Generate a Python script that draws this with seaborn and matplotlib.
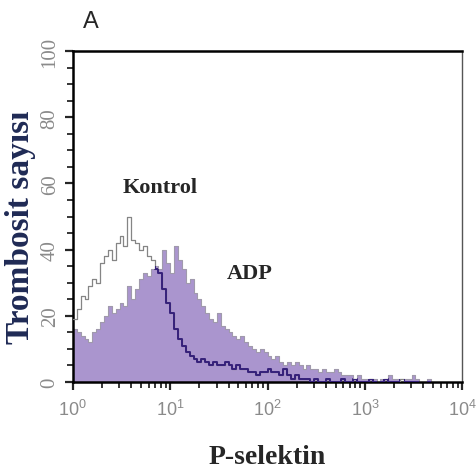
import numpy as np
import seaborn as sns
import matplotlib.pyplot as plt
from matplotlib.ticker import MultipleLocator, LogLocator

# histogram channels, 0.04 decade wide, from 10^0 to 10^4
log_kanal = np.arange(100) * 0.04

kontrol = [19, 22, 26, 25, 29, 31, 30, 36, 38, 40,
           37, 42, 44, 41, 50, 43, 42, 40, 41, 38,
           37, 34, 33, 28, 24, 21, 16, 13, 11, 9,
           8, 7, 6, 7, 6, 5, 6, 5, 5, 6,
           5, 4, 5, 4, 4, 3, 3, 2, 3, 3,
           4, 3, 3, 2, 4, 2, 1, 2, 1, 1,
           1, 0, 1, 0, 0, 1, 0, 0, 0, 1,
           0, 0, 1, 0, 0, 0, 1, 0, 0, 0,
           1, 0, 0, 0, 1, 0, 0, 0, 0, 0,
           0, 0, 0, 0, 0, 0, 0, 0, 0, 0]

adp = [16, 15, 14, 13, 12, 15, 16, 18, 20, 23,
       21, 22, 24, 23, 29, 25, 28, 31, 33, 32,
       34, 35, 34, 40, 36, 33, 41, 37, 34, 30,
       31, 27, 25, 23, 21, 19, 18, 21, 17, 16,
       15, 14, 13, 14, 12, 11, 10, 9, 10, 9,
       8, 7, 8, 6, 5, 6, 5, 6, 5, 4,
       5, 4, 4, 3, 4, 3, 3, 4, 3, 2,
       2, 2, 1, 2, 1, 1, 1, 1, 0, 1,
       1, 2, 1, 1, 0, 1, 1, 2, 1, 0,
       0, 1, 0, 0, 0, 0, 0, 0, 0, 0]

sns.set_style("ticks")
plt.rcParams['font.family'] = ['Liberation Sans', 'DejaVu Sans']
plt.rcParams['mathtext.fontset'] = 'custom'
plt.rcParams['mathtext.rm'] = 'Liberation Sans'

x = 10 ** np.append(log_kanal, 4.0)
y_k = np.append(kontrol, kontrol[-1])
y_a = np.append(adp, adp[-1])

fig = plt.figure(figsize=(4.76, 4.77), dpi=100)
ax = fig.add_axes([0.153, 0.197, 0.818, 0.694])

fill = ax.fill_between(x, y_a, step='post', color='#aa95ce', linewidth=0, zorder=1)
ax.step(x, y_a, where='post', color='#a09aac', lw=0.8, zorder=2)
sns.lineplot(x=x, y=y_k, drawstyle='steps-post', color='#858585', lw=0.9,
             estimator=None, ax=ax, zorder=3)
koyu = ax.step(x, y_k, where='post', color='#35207a', lw=1.4, zorder=4)[0]
koyu.set_clip_path(fill.get_paths()[0], ax.transData)

ax.set_xscale('log')
ax.set_xlim(1, 1e4)
ax.set_ylim(0, 100)
ax.yaxis.set_major_locator(MultipleLocator(20))
ax.yaxis.set_minor_locator(MultipleLocator(5))
ax.xaxis.set_minor_locator(LogLocator(base=10, subs=np.arange(2, 10)))

for s in ax.spines.values():
    s.set_color('black')
    s.set_linewidth(1.8)
ax.spines['right'].set_linewidth(1.0)
ax.spines['right'].set_color('#555555')

ax.tick_params(which='major', direction='out', length=6, width=1.6,
               labelcolor='#8a8a8a', labelsize=13)
ax.tick_params(axis='x', which='major', pad=6)
ax.tick_params(which='minor', direction='out', length=4, width=1.3)
plt.setp(ax.get_yticklabels(), rotation=90, va='center', fontsize=15,
         family='Liberation Serif')

ax.set_xlabel('P-selektin', family='Liberation Serif', fontweight='bold',
              fontsize=20, labelpad=18)
ax.set_ylabel('Trombosit sayısı', family='Liberation Serif', fontweight='bold',
              fontsize=24, color='#1f2a55')
ax.yaxis.set_label_coords(-0.095, 0.47)

ax.text(7.9, 59, 'Kontrol', family='Liberation Serif', fontweight='bold',
        fontsize=16, ha='center', va='center')
ax.text(66, 33, 'ADP', family='Liberation Serif', fontweight='bold',
        fontsize=16, ha='center', va='center')
fig.text(91 / 476, 1 - 22 / 477, 'A', fontsize=17, ha='center', va='center')

fig.savefig('out.png', dpi=100)
